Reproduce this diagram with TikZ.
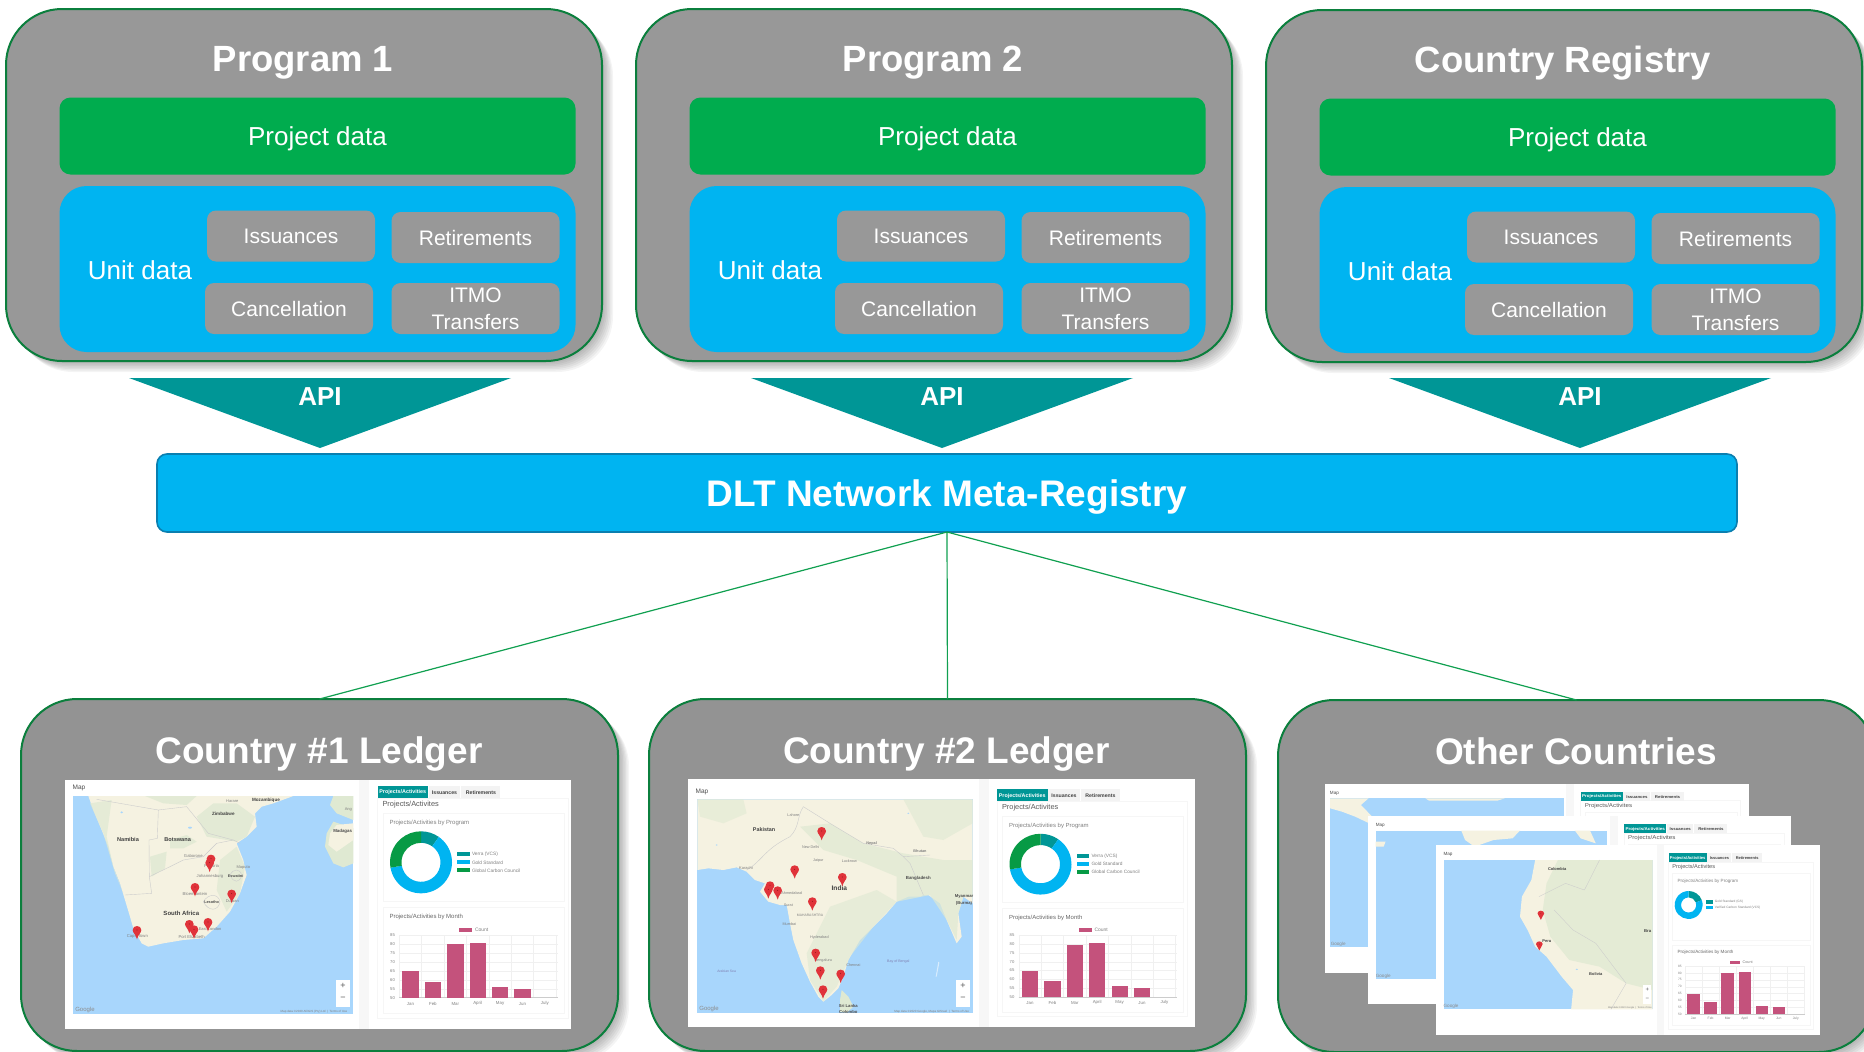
\documentclass[tikz,border=0pt]{standalone}
\usepackage{fontspec}
\setmainfont{Liberation Sans}
\definecolor{boxgrey}{HTML}{989898}
\definecolor{boxgreyb}{HTML}{939393}
\definecolor{edgegreen}{HTML}{0B7F3D}
\definecolor{pgreen}{HTML}{00AC4E}
\definecolor{ublue}{HTML}{00B4F1}
\definecolor{dltedge}{HTML}{0A7FB0}
\definecolor{apiteal}{HTML}{009696}
\definecolor{linkgreen}{HTML}{10A050}
\definecolor{water}{HTML}{A8D6FC}
\definecolor{land}{HTML}{F5F2E1}
\definecolor{landg}{HTML}{DFE9D2}
\definecolor{barc}{HTML}{C4527C}
\definecolor{donutg}{HTML}{079A45}
\definecolor{tabgrey}{HTML}{F3F3F3}
\definecolor{cardl}{HTML}{F6F6F6}
\definecolor{tinyg}{HTML}{808080}
\definecolor{pinr}{HTML}{E0333A}
\newcount\lblno
\newcommand{\fs}[1]{\fontsize{#1}{#1}\selectfont}
\tikzset{
  x=1pt,y=-1pt,
  softshadow/.style={preaction={fill=black,opacity=.045,transform canvas={shift={(#1,-#1)}}}},
  bigbox/.style={draw=edgegreen,line width=2pt,rounded corners=56pt,outer sep=0pt,inner sep=0pt,
    softshadow=11pt,softshadow=9.5pt,softshadow=8pt,softshadow=6.5pt,softshadow=5pt,softshadow=3.5pt,softshadow=2pt},
  datahead/.style={text=white,font=\fs{26},inner sep=0pt,text height=19pt,text depth=0pt},
  minibox/.style={fill=boxgrey,rounded corners=9pt,text=white,font=\fs{21},inner sep=0pt,outer sep=0pt,
    minimum width=168pt,minimum height=51pt,align=center,text height=15pt,text depth=0pt},
  bigtitle/.style={text=white,font=\bfseries\fs{36.5},inner sep=0pt,text height=26pt,text depth=0pt},
  tinytext/.style={inner sep=0pt,outer sep=0pt,text=tinyg,transform shape},
  maptext/.style={inner sep=0pt,outer sep=0pt,text=#1},
  maptext/.default=tinyg,
  link/.style={draw=linkgreen,line width=1.2pt},
  apiarrow/.style={fill=apiteal}
}
% text inside a scaled card
\newcommand{\lbl}[5][center]{\global\advance\lblno by 1
  \node[tinytext,anchor=#1] (t\the\lblno) at (#2,#3) {\fs{#4}#5};}
% text on a map: keeps its own shape inside the map's scope
\newcommand{\mapl}[5][tinyg]{\global\advance\lblno by 1
  \node[maptext=#1] (t\the\lblno) at (#2,#3) {\fs{#4}#5};}
\newcommand{\pin}[3]{\begin{scope}[shift={(#1,#2)},scale=#3]
  \fill[pinr] (0,24) .. controls (-3,10) and (-13,4) .. (-13,-4)
     .. controls (-13,-20) and (13,-20) .. (13,-4)
     .. controls (13,4) and (3,10) .. (0,24) -- cycle;
  \fill[black!70!red] (0,-4) circle[radius=1.1pt];
  \end{scope}}
\newcommand{\program}[4]{% id, dx, dy, title
 \begin{scope}[shift={(#2,#3)}]
  \node[bigbox,fill=boxgrey,minimum width=596pt,minimum height=352pt] (#1box) at (298,176) {};
  \node[bigtitle] (#1title) at (297,49.5) {#4};
  \node[fill=pgreen,rounded corners=11pt,minimum width=516pt,minimum height=77pt,inner sep=0pt,datahead] (#1proj) at (311.5,127) {Project data};
  \node[fill=ublue,rounded corners=27pt,minimum width=516pt,minimum height=166pt,inner sep=0pt] (#1unit) at (311.5,260) {};
  \node[datahead] (#1unitl) at (134,261) {Unit data};
  \node[minibox] (#1iss) at (285,227) {Issuances};
  \node[minibox] (#1ret) at (469.5,228.5) {Retirements};
  \node[minibox] (#1can) at (283,299.5) {Cancellation};
  \node[minibox] (#1itmo) at (469.5,299.5) {};
  \node[inner sep=0pt,text=white,font=\fs{21},text height=15pt,text depth=0pt] (#1itmoa) at (469.5,286) {ITMO};
  \node[inner sep=0pt,text=white,font=\fs{21},text height=15pt,text depth=0pt] (#1itmob) at (469.5,313) {Transfers};
 \end{scope}}
\newcommand{\apitri}[2]{% id, apex x
  \coordinate (#1a) at (#2-191,378);
  \coordinate (#1b) at (#2+191,378);
  \coordinate (#1c) at (#2,448);
  \fill[apiarrow] (#1a) -- (#1b) -- (#1c) -- cycle;
  \node[text=white,font=\bfseries\fs{26},inner sep=0pt] (#1t) at (#2,397) {API};}
\newcommand{\rightcard}[5]{%
 \begin{scope}[shift={(#1,#2)},xscale=#3,yscale=#4]
  \draw[cardl,line width=.6pt] (0,18) rectangle (190.5,238);
  \draw[cardl,line width=.6pt] (5.5,33) rectangle (186.5,121);
  \draw[cardl,line width=.6pt] (5.5,127) rectangle (186.5,233);
  \fill[tabgrey] (51,6) rectangle (82.5,18);
  \fill[tabgrey] (83.5,6) rectangle (122.5,18);
  \fill[apiteal] (0,6) rectangle (50.5,18);
  \global\advance\lblno by 1
  \node[tinytext,text=white] (t\the\lblno) at (25.25,12.5) {\bfseries\fs{5.4}Projects/Activities};
  \lbl{67}{12.7}{5.2}{\textcolor{black!75}{\bfseries Issuances}}
  \lbl{103.5}{12.7}{5.2}{\textcolor{black!75}{\bfseries Retirements}}
  \lbl[west]{5}{25}{7.4}{\textcolor{black!65}{Projects/Activites}}
  \lbl[west]{12}{43}{6}{Projects/Activities by Program}
  \lbl[west]{12}{137}{6}{\textcolor{black!60}{Projects/Activities by Month}}
  \fill[barc] (81.5,147.7) rectangle (94.5,151.7);
  \lbl[west]{97.5}{149.7}{5}{Count}
  \foreach \j in {0,...,7} {\draw[black!6,line width=.4pt] (21.7,{155+8.95*\j}) -- (180,{155+8.95*\j});}
  \foreach \i in {0,...,7} {\draw[black!6,line width=.4pt] ({21.7+22.4*\i},155) -- ({21.7+22.4*\i},217.7);}
  \draw[black!20,line width=.5pt] (21.7,217.7) -- (180,217.7);
  \foreach \j/\v in {0/85,1/80,2/75,3/70,4/65,5/60,6/55,7/50} {\lbl{15}{155+8.95*\j}{4.2}{\v}}
  \foreach \i/\t/\m in {0/191/Jan,1/201.7/Feb,2/164.3/Mar,3/162.7/April,4/207/May,5/208.7/Jun} {
    \fill[barc] ({24.9+22.4*\i},\t) rectangle ({41.2+22.4*\i},217.7);
    \lbl{33+22.4*\i}{223.5}{4.4}{\m}}
  \lbl{33+22.4*6}{223.5}{4.4}{July}
  #5
 \end{scope}}
\newcommand{\donutseg}[7]{% cx cy R r a1 a2 colour
  \fill[#7] ([shift={(#1,#2)}]#5:#3pt) arc[start angle=#5,end angle=#6,radius=#3pt]
     -- ([shift={(#1,#2)}]#6:#4pt) arc[start angle=#6,end angle=#5,radius=#4pt] -- cycle;}
\newcommand{\legend}[4]{\fill[#3] (79.5,#1-2) rectangle (92,#1+2);\lbl[west]{94.5}{#1}{#2}{#4}}
\newcommand{\threedonut}{%
  \donutseg{43.5}{82.3}{31}{19.5}{90}{55}{apiteal}
  \donutseg{43.5}{82.3}{31}{19.5}{55}{-170}{ublue}
  \donutseg{43.5}{82.3}{31}{19.5}{190}{90}{donutg}
  \legend{74.3}{4.8}{apiteal}{Verra (VCS)}
  \legend{82.3}{4.8}{ublue}{Gold Standard}
  \legend{90.3}{4.8}{donutg}{Global Carbon Council}}
\newcommand{\zoomctl}[2]{\fill[white] (#1,#2) rectangle (#1+42,#2+80);
  \mapl[black!65]{#1+21}{#2+18}{9}{+}\mapl[black!65]{#1+21}{#2+58}{9}{−}}
\begin{document}
\begin{tikzpicture}
\useasboundingbox (0,0) rectangle (1864,1052);
\clip (0,0) rectangle (1864,1052);
\fill[white] (0,0) rectangle (1864,1052);

\program{pa}{6}{9}{Program 1}
\program{pb}{636}{9}{Program 2}
\program{pc}{1266}{10}{Country Registry}

\apitri{apia}{320}
\apitri{apib}{942}
\apitri{apic}{1580}

\node[fill=ublue,draw=dltedge,line width=1.6pt,rounded corners=10pt,minimum width=1580pt,minimum height=78pt,
  inner sep=0pt,outer sep=0pt,text=white,font=\bfseries\fs{37},text height=26.5pt,text depth=0pt] (dlt) at (947,493) {DLT Network Meta-Registry};

\node[bigbox,fill=boxgreyb,minimum width=597pt,minimum height=352pt] (ca) at (319.5,875) {};
\node[bigbox,fill=boxgreyb,minimum width=597pt,minimum height=352pt] (cb) at (947.5,875) {};
\node[bigbox,fill=boxgreyb,minimum width=597pt,minimum height=352pt] (cc) at (1576.5,876) {};

\draw[link] (dlt.south) -- (ca.north);
\draw[link] (dlt.south) -- (cb.north);
\draw[link] (dlt.south) -- (cc.north);

\node[bigtitle,font=\bfseries\fs{37}] (catitle) at (319,750) {Country \#1 Ledger};
\node[bigtitle,font=\bfseries\fs{37}] (cbtitle) at (946.5,750) {Country \#2 Ledger};
\node[bigtitle,font=\bfseries\fs{37}] (cctitle) at (1576,751) {Other Countries};

% ---- Country 1 panel
\fill[white] (65,780) rectangle (571,1029);
\fill[black!3] (359,780) rectangle (369,1029);
\begin{scope}[shift={(70,780)},scale=1/3]
  \fill[water] (8,48) rectangle (850,702);
  \fill[land] (55,48) -- (70,90) -- (95,150) -- (115,200) -- (130,260) -- (150,310) -- (165,360) -- (180,410)
     -- (190,445) -- (215,490) -- (235,500) -- (280,490) -- (340,480) -- (400,475) -- (440,440) -- (480,395)
     -- (510,340) -- (530,285) -- (525,265) -- (520,240) -- (500,190) -- (530,170) -- (560,140) -- (555,100)
     -- (575,80) -- (610,70) -- (670,48) -- cycle;
  \fill[landg] (850,145) -- (790,125) -- (770,160) -- (765,200) -- (790,250) -- (820,262) -- (850,250) -- cycle;
  \fill[land] (850,130) -- (800,135) -- (780,160) -- (775,195) -- (800,215) -- (850,180) -- cycle;
  \fill[landg] (790,48) -- (850,48) -- (850,120) -- (800,100) -- (780,75) -- cycle;
  \fill[landg,opacity=.8] (225,48) -- (380,48) -- (350,75) -- (280,70) -- cycle;
  \fill[landg,opacity=.8] (240,230) -- (290,215) -- (285,265) -- (245,290) -- cycle;
  \fill[landg,opacity=.8] (300,180) -- (350,165) -- (380,185) -- (340,205) -- (300,205) -- cycle;
  \fill[landg,opacity=.8] (410,170) -- (500,185) -- (530,170) -- (555,110) -- (500,70) -- (430,70) -- (380,110) -- cycle;
  \fill[landg,opacity=.7] (450,240) -- (500,200) -- (525,260) -- (510,340) -- (470,395) -- (440,330) -- cycle;
  \fill[landg,opacity=.7] (60,70) -- (125,60) -- (110,170) -- (130,260) -- (160,340) -- (135,280) -- (100,160) -- cycle;
  \fill[water] (155,97) ellipse[x radius=4pt,y radius=3pt];
  \fill[water] (360,143) ellipse[x radius=6pt,y radius=3pt];
  \draw[black!20,line width=.4pt] (265,90) -- (262,175) -- (237,180) -- (238,290) -- (245,340) -- (165,345);
  \draw[black!20,line width=.4pt] (238,290) -- (300,260) -- (340,240) -- (400,230) -- (440,190) -- (490,180) -- (510,190);
  \draw[black!20,line width=.4pt] (265,90) -- (350,80) -- (415,160) -- (490,180);
  \draw[black!20,line width=.4pt] (80,58) -- (265,90);
  \draw[black!20,line width=.4pt] (400,365) .. controls (415,340) and (445,340) .. (450,365) .. controls (445,395) and (415,395) .. (400,365) -- cycle;
  \draw[black!20,line width=.4pt] (480,285) .. controls (490,265) and (510,265) .. (515,285) .. controls (510,310) and (490,310) .. (480,285) -- cycle;
  \mapl{174}{178}{5.6}{\textcolor{black!75}{\bfseries Namibia}}
  \mapl{323}{180}{5.6}{\textcolor{black!75}{\bfseries Botswana}}
  \mapl{460}{103}{4.6}{\textcolor{black!75}{\bfseries Zimbabwe}}
  \mapl{588}{62}{4.6}{\textcolor{black!75}{\bfseries Mozambique}}
  \mapl{487}{63}{4}{Harare}
  \mapl[black!70]{818}{153}{4.4}{\bfseries Madagas}
  \mapl{835}{88}{4}{Ang}
  \mapl{334}{400}{6}{\textcolor{black!75}{\bfseries South Africa}}
  \mapl{370}{229}{4.2}{Gaborone}
  \mapl{425}{257}{4.2}{Pretoria}
  \mapl{420}{290}{4.2}{Johannesburg}
  \mapl{520}{262}{4}{Maputo}
  \mapl[black!70]{497}{288}{3.8}{\bfseries Eswatini}
  \mapl{375}{341}{4.2}{Bloemfontein}
  \mapl[black!70]{425}{366}{3.8}{\bfseries Lesotho}
  \mapl{487}{362}{4}{Durban}
  \mapl{202}{469}{4.2}{Cape Town}
  \mapl{365}{471}{4.2}{Port Elizabeth}
  \mapl{420}{447}{4}{East London}
  \pin{423}{240}{1}\pin{419}{252}{1}\pin{375}{325}{1}\pin{485}{345}{1}
  \pin{358}{436}{1}\pin{372}{452}{1}\pin{414}{430}{1}\pin{201}{454}{1}
  \zoomctl{798}{600}
  \mapl[black!45]{45}{689}{6}{Google}
  \mapl[black!50]{732}{695}{3}{Map data ©2020 AfriGIS (Pty) Ltd \ | \ Terms of Use}
\end{scope}
\lbl{79}{788}{6.5}{\textcolor{black!70}{Map}}
\rightcard{377.5}{780}{1}{1}{\threedonut}

% ---- Country 2 panel
\fill[white] (688,779) rectangle (1195,1027);
\fill[black!3] (979,779) rectangle (989,1027);
\begin{scope}[shift={(690,780)},scale=1/3]
  \fill[water] (22,58) rectangle (848,700);
  \fill[land] (22,58) -- (848,58) -- (848,370) -- (820,350) -- (805,400) -- (815,470) -- (800,490) -- (770,420)
     -- (750,370) -- (715,345) -- (700,345) -- (690,350) -- (655,350) -- (620,365) -- (590,400) -- (550,440)
     -- (510,480) -- (475,540) -- (460,590) -- (445,625) -- (425,645) -- (400,665) -- (385,650) -- (360,605)
     -- (335,550) -- (310,480) -- (300,430) -- (290,375) -- (270,375) -- (235,365) -- (210,335) -- (225,310)
     -- (195,300) -- (170,275) -- (140,262) -- (100,270) -- (55,265) -- (22,270) -- cycle;
  \fill[landg,opacity=.7] (330,140) -- (420,130) -- (520,190) -- (640,220) -- (760,240) -- (848,240) -- (848,350)
     -- (820,350) -- (805,400) -- (800,480) -- (770,420) -- (720,345) -- (620,365) -- (620,290) -- (500,240) -- (400,210) -- cycle;
  \fill[landg,opacity=.6] (420,380) -- (560,330) -- (620,365) -- (550,440) -- (480,530) -- (440,620) -- (400,665) -- (360,600) -- (350,520) -- cycle;
  \fill[landg,opacity=.55] (22,58) -- (160,58) -- (170,100) -- (100,130) -- (30,110) -- cycle;
  \fill[landg,opacity=.6] (640,58) -- (848,58) -- (848,130) -- (760,180) -- (700,170) -- cycle;
  \fill[landg] (455,630) -- (475,650) -- (490,680) -- (470,698) -- (450,695) -- (450,660) -- cycle;
  \fill[water] (80,195) ellipse[x radius=3pt,y radius=2pt];
  \fill[water] (655,100) ellipse[x radius=3pt,y radius=2pt];
  \fill[white,opacity=.55] (745,545) -- (748,548) -- (740,590) -- (737,590) -- cycle;
  \draw[black!20,line width=.4pt] (170,270) .. controls (220,240) and (220,210) .. (300,170) .. controls (330,140) and (320,110) .. (340,80);
  \draw[black!20,line width=.4pt] (340,80) -- (420,130) -- (520,190) -- (610,205) -- (640,230) -- (720,225);
  \draw[black!20,line width=.4pt] (700,345) -- (660,250) -- (640,230);
  \mapl{222}{149}{5.4}{\textcolor{black!75}{\bfseries Pakistan}}
  \mapl[black!75]{448}{325}{6.6}{\bfseries India}
  \mapl{545}{192}{3.8}{\bfseries Nepal}
  \mapl{690}{213}{3.8}{\bfseries Bhutan}
  \mapl[black!70]{685}{294}{4.4}{\bfseries Bangladesh}
  \mapl[black!70]{822}{360}{4.2}{\bfseries \shortstack{Myanmar\\(Burma)}}
  \mapl[black!70]{475}{687}{4.2}{\bfseries \shortstack{Sri Lanka\\Colombo}}
  \mapl{168}{263}{4}{Karachi}
  \mapl{310}{105}{3.8}{Lahore}
  \mapl{362}{200}{3.8}{New Delhi}
  \mapl{385}{241}{3.8}{Jaipur}
  \mapl{478}{243}{3.8}{Lucknow}
  \mapl{305}{338}{3.8}{Ahmedabad}
  \mapl{295}{377}{3.8}{Surat}
  \mapl{360}{405}{3.4}{MAHARASHTRA}
  \mapl{298}{432}{3.8}{Mumbai}
  \mapl{388}{472}{3.8}{Hyderabad}
  \mapl{400}{542}{3.8}{Bengaluru}
  \mapl{490}{555}{3.8}{Chennai}
  \mapl{625}{545}{3.6}{\textcolor{blue!40!black!50}{Bay of Bengal}}
  \mapl{110}{573}{3.4}{\textcolor{blue!40!black!50}{Arabian Sea}}
  \pin{395}{157}{1}\pin{314}{272}{1}\pin{457}{295}{1}\pin{240}{320}{1}\pin{235}{332}{1}\pin{263}{335}{1}
  \pin{367}{368}{1}\pin{377}{522}{1}\pin{391}{575}{1}\pin{452}{585}{1}\pin{399}{632}{1}
  \zoomctl{798}{600}
  \mapl[black!45]{57}{688}{6}{Google}
  \mapl[black!50]{725}{695}{3}{Map data ©2020 Google, Mapa GISrael \ | \ Terms of Use}
\end{scope}
\lbl{702}{792}{6.5}{\textcolor{black!70}{Map}}
\rightcard{997}{783.5}{1}{.98}{\threedonut}

% ---- Other Countries: three stacked panels
\fill[white] (1325,784) rectangle (1749,973);
\fill[black!3] (1566,784) rectangle (1574,973);
\begin{scope}[shift={(1270,690)},xscale=1/2.64,yscale=1/3]
  \fill[water] (159,325) rectangle (775,772);
  \fill[land] (159,325) -- (260,325) -- (240,345) -- (270,380) -- (262,400) -- (225,380) -- (190,365) -- (159,355) -- cycle;
  \fill[land] (410,325) -- (620,325) -- (600,332) -- (420,332) -- cycle;
  \mapl{170}{310}{4.6}{\textcolor{black!70}{Map}}
  \mapl[black!45]{180}{763}{4.6}{Google}
\end{scope}
\rightcard{1580.6}{787}{.84}{.76}{}

\fill[white] (1368,816) rectangle (1791,1004);
\fill[black!3] (1610,816) rectangle (1618,1004);
\begin{scope}[shift={(1270,690)},xscale=1/2.64,yscale=1/3]
  \fill[water] (279,422) rectangle (890,868);
  \fill[land] (505,422) -- (660,422) -- (640,445) -- (590,450) -- (540,470) -- (515,450) -- cycle;
  \fill[land] (805,422) -- (845,422) -- (860,460) -- (820,445) -- cycle;
  \fill[land] (279,455) -- (305,455) -- (300,470) -- (279,470) -- cycle;
  \mapl{291}{406}{4.6}{\textcolor{black!70}{Map}}
  \mapl[black!45]{299}{859}{4.6}{Google}
\end{scope}
\rightcard{1624}{819.5}{.84}{.76}{}

\fill[white] (1436,845) rectangle (1820,1035);
\fill[black!3] (1657,845) rectangle (1664,1035);
\begin{scope}[shift={(1270,690)},xscale=1/2.64,yscale=1/3]
  \fill[water] (459,510) rectangle (1010,958);
  \fill[land] (700,510) -- (1010,510) -- (1010,958) -- (795,958) -- (800,900) -- (770,860) -- (730,800) -- (700,770)
     -- (680,720) -- (660,680) -- (665,620) -- (690,570) -- cycle;
  \fill[landg,opacity=.75] (760,510) -- (1010,510) -- (1010,900) -- (940,880) -- (870,830) -- (790,810) -- (740,740) -- (720,660) -- (730,580) -- cycle;
  \draw[black!20,line width=.35pt] (710,620) -- (780,580) -- (830,600) -- (870,510);
  \draw[black!20,line width=.35pt] (750,660) -- (800,720) -- (860,760) -- (940,880) -- (900,958);
  \fill[water] (810,838) ellipse[x radius=3pt,y radius=2pt];
  \mapl[black!75]{758}{536}{4}{\bfseries Colombia}
  \mapl[black!75]{731}{753}{4}{\bfseries Peru}
  \mapl[black!75]{997}{722}{4.2}{\bfseries Bra}
  \mapl[black!75]{860}{853}{4}{\bfseries Bolivia}
  \mapl{470}{493}{4.6}{\textcolor{black!70}{Map}}
  \pin{715}{673}{.68}\pin{711}{765}{.68}
  \fill[white] (985,885) rectangle (1007,942);
  \mapl[black!65]{996}{899}{6}{+}\mapl[black!65]{996}{928}{6}{−}
  \mapl[black!45]{478}{949}{4.6}{Google}
  \mapl[black!50]{950}{953}{2.4}{Map data ©2020 Google \ | \ Terms of Use}
\end{scope}
\rightcard{1668.5}{848.5}{.76}{.76}{%
  \donutseg{26.5}{74.3}{18.4}{10}{90}{20}{apiteal}
  \donutseg{26.5}{74.3}{18.4}{10}{20}{-270}{ublue}
  \fill[apiteal] (48.8,68.4) rectangle (58,72.4);\lbl[west]{61}{70.4}{4.2}{Gold Standard (GS)}
  \fill[ublue] (48.8,76) rectangle (58,80);\lbl[west]{61}{78}{4.2}{Verified Carbon Standard (VCS)}}
\end{tikzpicture}
\end{document}
